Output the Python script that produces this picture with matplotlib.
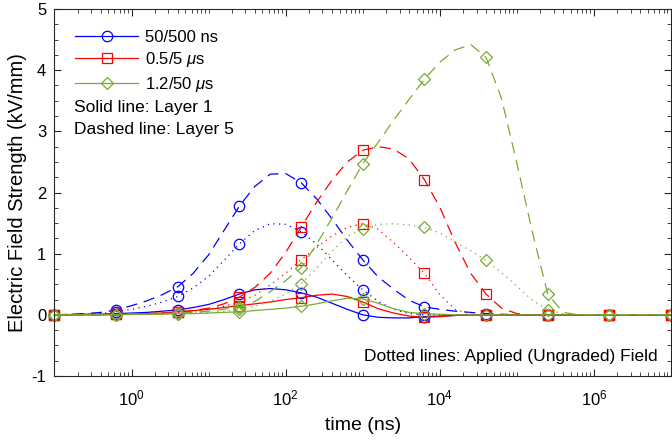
import matplotlib

matplotlib.use("Agg")

import matplotlib.pyplot as plt
import numpy as np
from matplotlib.lines import Line2D
from matplotlib.ticker import FixedLocator, LogFormatterMathtext, LogLocator, MultipleLocator, NullFormatter

# sample grid: one point every 0.2 decade from 1e-1 ns to 1e7 ns
log_t = np.linspace(-1.0, 7.0, 41)
time_ns = 10.0 ** log_t

# 50/500 ns
blue_layer1 = [0.00, 0.00, 0.01, 0.01, 0.02, 0.03, 0.04, 0.06, 0.08, 0.12, 0.17, 0.25, 0.34, 0.41, 0.43, 0.41,
               0.36, 0.29, 0.19, 0.09, 0.00, -0.04, -0.05, -0.05, -0.03, -0.02, -0.01, 0.00, 0.00, 0.00, 0.00,
               0.00, 0.00, 0.00, 0.00, 0.00, 0.00, 0.00, 0.00, 0.00, 0.00]
blue_layer5 = [0.00, 0.01, 0.02, 0.04, 0.08, 0.15, 0.23, 0.33, 0.46, 0.68, 0.98, 1.38, 1.78, 2.10, 2.30, 2.31,
               2.16, 1.90, 1.57, 1.22, 0.90, 0.62, 0.42, 0.24, 0.13, 0.09, 0.06, 0.04, 0.02, 0.01, 0.00,
               0.00, 0.00, 0.00, 0.00, 0.00, 0.00, 0.00, 0.00, 0.00, 0.00]
blue_applied = [0.00, 0.01, 0.01, 0.02, 0.05, 0.09, 0.14, 0.21, 0.30, 0.44, 0.63, 0.89, 1.16, 1.38, 1.49, 1.48,
                1.36, 1.16, 0.90, 0.64, 0.41, 0.22, 0.09, 0.02, 0.00, 0.00, 0.00, 0.00, 0.00, 0.00, 0.00,
                0.00, 0.00, 0.00, 0.00, 0.00, 0.00, 0.00, 0.00, 0.00, 0.00]

# 0.5/5 us
red_layer1 = [0.00, 0.00, 0.00, 0.00, 0.01, 0.01, 0.02, 0.03, 0.05, 0.07, 0.09, 0.12, 0.15, 0.18, 0.21, 0.25,
              0.28, 0.32, 0.34, 0.30, 0.21, 0.10, 0.03, -0.02, -0.04, -0.03, -0.01, 0.00, 0.00, 0.00, 0.00,
              0.00, 0.00, 0.00, 0.00, 0.00, 0.00, 0.00, 0.00, 0.00, 0.00]
red_layer5 = [0.00, 0.00, 0.00, 0.00, 0.01, 0.01, 0.02, 0.03, 0.04, 0.07, 0.11, 0.18, 0.29, 0.45, 0.68, 1.02,
              1.43, 1.84, 2.20, 2.50, 2.69, 2.75, 2.71, 2.55, 2.21, 1.76, 1.18, 0.68, 0.34, 0.11, 0.02,
              0.00, 0.00, 0.00, 0.00, 0.00, 0.00, 0.00, 0.00, 0.00, 0.00]
red_applied = [0.00, 0.00, 0.00, 0.01, 0.01, 0.02, 0.02, 0.03, 0.04, 0.06, 0.09, 0.14, 0.21, 0.32, 0.49, 0.68,
               0.90, 1.10, 1.29, 1.43, 1.49, 1.40, 1.18, 0.94, 0.68, 0.33, 0.09, 0.01, 0.00, 0.00, 0.00,
               0.00, 0.00, 0.00, 0.00, 0.00, 0.00, 0.00, 0.00, 0.00, 0.00]

# 1.2/50 us
green_layer1 = [0.00, 0.00, 0.00, 0.00, 0.00, 0.01, 0.01, 0.01, 0.02, 0.02, 0.03, 0.04, 0.05, 0.07, 0.09, 0.11,
                0.14, 0.18, 0.23, 0.27, 0.26, 0.19, 0.10, 0.04, 0.02, 0.01, 0.00, 0.00, 0.00, 0.00, 0.00,
                0.00, 0.00, 0.00, 0.00, 0.00, 0.00, 0.00, 0.00, 0.00, 0.00]
green_layer5 = [0.00, 0.00, 0.00, 0.00, 0.00, 0.01, 0.01, 0.02, 0.03, 0.04, 0.06, 0.09, 0.13, 0.22, 0.38, 0.56,
                0.77, 1.15, 1.58, 2.03, 2.47, 2.82, 3.18, 3.52, 3.85, 4.13, 4.33, 4.42, 4.21, 3.54, 2.48,
                1.36, 0.34, 0.04, 0.00, 0.00, 0.00, 0.00, 0.00, 0.00, 0.00]
green_applied = [0.00, 0.00, 0.00, 0.00, 0.00, 0.01, 0.01, 0.01, 0.02, 0.03, 0.04, 0.06, 0.09, 0.14, 0.22, 0.34,
                 0.51, 0.76, 1.04, 1.28, 1.41, 1.48, 1.49, 1.47, 1.43, 1.34, 1.19, 1.05, 0.89, 0.69, 0.47,
                 0.24, 0.08, 0.02, 0.00, 0.00, 0.00, 0.00, 0.00, 0.00, 0.00]

pulse_labels = ["50/500 ns", "0.5/5 $\\mu$s", "1.2/50 $\\mu$s"]
pulse_colors = ["#0000ff", "#ff0000", "#77ac30"]
pulse_markers = ["o", "s", "D"]
marker_sizes = [7.5, 7, 6.5]

DASHED = (0, (9, 5.5))
DOTTED = (0, (1, 3.5))

plt.rcParams["font.family"] = ["Liberation Sans", "DejaVu Sans"]
plt.rcParams["mathtext.fontset"] = "custom"
plt.rcParams["mathtext.rm"] = "Liberation Sans"
plt.rcParams["mathtext.it"] = "Liberation Sans:italic"
plt.rcParams["axes.unicode_minus"] = False


def _draw_pulse(ax, curves, color, marker, ms):
    for values, style in zip(curves, ["-", DASHED, DOTTED]):
        ax.plot(time_ns, values, color=color, linestyle=style, linewidth=0.9, marker=marker,
                markersize=ms, markerfacecolor="none", markeredgewidth=0.9, markevery=4, clip_on=False)


def main():
    fig = plt.figure(figsize=(6.72, 4.43), dpi=100)
    ax = fig.add_axes([0.0811, 0.1512, 0.9174, 0.8285])

    groups = [
        (blue_layer1, blue_layer5, blue_applied),
        (red_layer1, red_layer5, red_applied),
        (green_layer1, green_layer5, green_applied),
    ]
    for curves, color, marker, ms in zip(groups, pulse_colors, pulse_markers, marker_sizes):
        _draw_pulse(ax, curves, color, marker, ms)

    ax.set_xscale("log")
    ax.set_xlim(1e-1, 1e7)
    ax.set_ylim(-1, 5)
    ax.xaxis.set_major_locator(FixedLocator([1e0, 1e2, 1e4, 1e6]))
    ax.xaxis.set_major_formatter(LogFormatterMathtext())
    ax.xaxis.set_minor_locator(LogLocator(base=10, subs=np.arange(1, 10), numticks=20))
    ax.xaxis.set_minor_formatter(NullFormatter())
    ax.yaxis.set_major_locator(MultipleLocator(1))
    ax.yaxis.set_minor_locator(MultipleLocator(0.25))

    axis_gray = "#262626"
    for spine in ax.spines.values():
        spine.set_color(axis_gray)
        spine.set_linewidth(0.8)
    ax.tick_params(which="both", direction="in", top=True, right=True, colors=axis_gray, labelsize=12,
                   labelcolor="black")
    ax.tick_params(which="major", length=5, width=0.8)
    ax.tick_params(which="minor", length=3, width=0.6)
    ax.tick_params(axis="x", which="major", pad=9)
    ax.tick_params(axis="y", which="major", pad=6)

    ax.set_xlabel("time (ns)", fontsize=14, labelpad=6)
    ax.set_ylabel("Electric Field Strength (kV/mm)", fontsize=14.5, labelpad=3)

    handles = [
        Line2D([], [], color=c, marker=m, markersize=s, markerfacecolor="none", markeredgewidth=0.9, linewidth=0.9)
        for c, m, s in zip(pulse_colors, pulse_markers, marker_sizes)
    ]
    ax.legend(handles, pulse_labels, loc="upper left", bbox_to_anchor=(0.033, 0.943), frameon=False,
              fontsize=12, handlelength=3.8, handletextpad=0.4, labelspacing=0.32, borderpad=0, borderaxespad=0)

    ax.text(0.032, 0.731, "Solid line: Layer 1", transform=ax.transAxes, fontsize=12.5, va="center")
    ax.text(0.032, 0.671, "Dashed line: Layer 5", transform=ax.transAxes, fontsize=12.5, va="center")
    ax.text(0.979, 0.052, "Dotted lines: Applied (Ungraded) Field", transform=ax.transAxes, fontsize=12.5,
            va="center", ha="right")

    fig.savefig("out.png", dpi=100)
    plt.close(fig)


if __name__ == "__main__":
    main()
